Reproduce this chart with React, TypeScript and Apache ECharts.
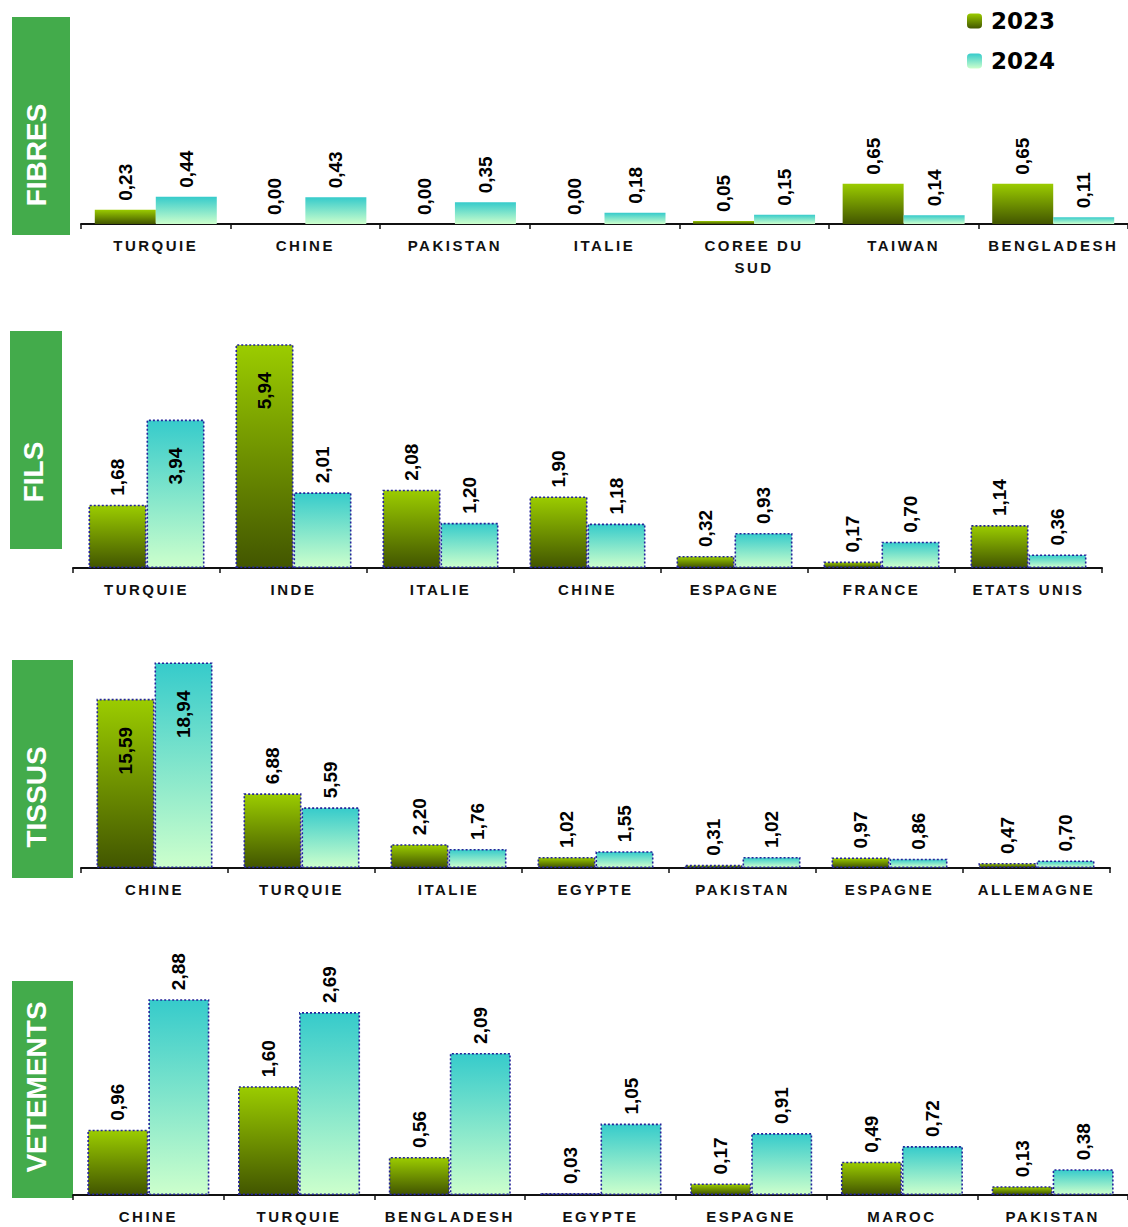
import React, { useEffect, useRef } from "react";
import * as echarts from "echarts";

// ---------- DATA ----------
const seriesNames = ["2023", "2024"];

const fibresCategories = ["TURQUIE", "CHINE", "PAKISTAN", "ITALIE", "COREE DU SUD", "TAIWAN", "BENGLADESH"];
const fibres2023 = [0.23, 0.0, 0.0, 0.0, 0.05, 0.65, 0.65];
const fibres2024 = [0.44, 0.43, 0.35, 0.18, 0.15, 0.14, 0.11];

const filsCategories = ["TURQUIE", "INDE", "ITALIE", "CHINE", "ESPAGNE", "FRANCE", "ETATS UNIS"];
const fils2023 = [1.68, 5.94, 2.08, 1.9, 0.32, 0.17, 1.14];
const fils2024 = [3.94, 2.01, 1.2, 1.18, 0.93, 0.7, 0.36];

const tissusCategories = ["CHINE", "TURQUIE", "ITALIE", "EGYPTE", "PAKISTAN", "ESPAGNE", "ALLEMAGNE"];
const tissus2023 = [15.59, 6.88, 2.2, 1.02, 0.31, 0.97, 0.47];
const tissus2024 = [18.94, 5.59, 1.76, 1.55, 1.02, 0.86, 0.7];

const vetementsCategories = ["CHINE", "TURQUIE", "BENGLADESH", "EGYPTE", "ESPAGNE", "MAROC", "PAKISTAN"];
const vetements2023 = [0.96, 1.6, 0.56, 0.03, 0.17, 0.49, 0.13];
const vetements2024 = [2.88, 2.69, 2.09, 1.05, 0.91, 0.72, 0.38];

const panelTitles = ["FIBRES", "FILS", "TISSUS", "VETEMENTS"];

// ---------- LAYOUT ----------
const panelData = [
  { cats: fibresCategories, a: fibres2023, b: fibres2024 },
  { cats: filsCategories, a: fils2023, b: fils2024 },
  { cats: tissusCategories, a: tissus2023, b: tissus2024 },
  { cats: vetementsCategories, a: vetements2023, b: vetements2024 },
];

const layouts = [
  { left: 81, width: 1057, axisY: 224, height: 186, max: 3, barWidth: 61, bordered: false, insideMin: Infinity,
    box: [12, 17, 58, 218], titleX: 36, titleY: 155 },
  { left: 73, width: 1029, axisY: 568, height: 226, max: 6, barWidth: 58, bordered: true, insideMin: 3,
    box: [10, 331, 52, 218], titleX: 33, titleY: 472 },
  { left: 81, width: 1029, axisY: 868, height: 217, max: 20, barWidth: 58, bordered: true, insideMin: 10,
    box: [12, 660, 61, 218], titleX: 36, titleY: 797 },
  { left: 73, width: 1057, axisY: 1198, height: 207, max: 3, barWidth: 61, bordered: true, insideMin: Infinity,
    box: [12, 981, 61, 217], titleX: 36, titleY: 1087 },
];

const labelFont = "'Liberation Sans', Arial, sans-serif";
const catFont = "'Liberation Sans', Arial, sans-serif";

function fmtValue(v: number) {
  return Number(v).toFixed(2).replace(".", ",");
}
function fmtCat(v: string) {
  if (v.length > 11 && v.indexOf(" ") > 0) {
    const i = v.lastIndexOf(" ");
    return v.slice(0, i) + "\n" + v.slice(i + 1);
  }
  return v;
}

const green = () =>
  new echarts.graphic.LinearGradient(0, 0, 0, 1, [
    { offset: 0, color: "#9BCC00" },
    { offset: 1, color: "#425600" },
  ]);
const cyan = () =>
  new echarts.graphic.LinearGradient(0, 0, 0, 1, [
    { offset: 0, color: "#36CBCB" },
    { offset: 1, color: "#CCFFCC" },
  ]);

export default function App() {
  const ref = useRef<HTMLDivElement>(null);

  useEffect(() => {
    if (!ref.current) return;
    const el = ref.current;
    const chart = echarts.init(el, undefined, { renderer: "svg" });

    const grids: any[] = [];
    const xAxes: any[] = [];
    const yAxes: any[] = [];
    const series: any[] = [];
    const graphics: any[] = [];

    const topLabel = {
      show: true,
      position: "top",
      rotate: 90,
      align: "left",
      verticalAlign: "middle",
      distance: 9,
      fontSize: 19,
      fontWeight: "bold",
      fontFamily: labelFont,
      color: "#000",
      formatter: (p: any) => fmtValue(p.value),
    };
    const insideLabel = {
      show: true,
      position: "insideTop",
      rotate: 90,
      align: "right",
      verticalAlign: "middle",
      distance: 28,
      fontSize: 19,
      fontWeight: "bold",
      fontFamily: labelFont,
      color: "#000",
      formatter: (p: any) => fmtValue(p.value),
    };

    layouts.forEach((L, i) => {
      const d = panelData[i];
      grids.push({ left: L.left, width: L.width, top: L.axisY - L.height, height: L.height, containLabel: false });
      xAxes.push({
        type: "category",
        gridIndex: i,
        data: d.cats,
        axisLine: { show: true, lineStyle: { color: "#111", width: 2 } },
        axisTick: { show: true, length: 5, lineStyle: { color: "#111", width: 1.5 } },
        axisLabel: {
          interval: 0,
          margin: 10,
          lineHeight: 22,
          fontSize: 15,
          fontWeight: "bold",
          fontFamily: catFont,
          color: "#111",
          formatter: fmtCat,
        },
      });
      yAxes.push({ type: "value", gridIndex: i, min: 0, max: L.max, show: false, splitLine: { show: false } });

      [d.a, d.b].forEach((vals, k) => {
        const border = L.bordered
          ? { borderColor: "#23239A", borderWidth: 1.6, borderType: [2, 2] }
          : { borderWidth: 0 };
        series.push({
          type: "bar",
          name: seriesNames[k],
          xAxisIndex: i,
          yAxisIndex: i,
          barWidth: L.barWidth,
          barGap: "0%",
          data: vals.map((v) => (v >= L.insideMin ? { value: v, label: insideLabel } : v)),
          itemStyle: { color: k === 0 ? green() : cyan(), ...border },
          label: topLabel,
        });
      });

      graphics.push({
        type: "rect",
        shape: { x: L.box[0], y: L.box[1], width: L.box[2], height: L.box[3] },
        style: { fill: "#43AB4B" },
        silent: true,
      });
      graphics.push({
        type: "text",
        x: L.titleX,
        y: L.titleY,
        rotation: Math.PI / 2,
        style: {
          text: panelTitles[i],
          fill: "#fff",
          fontSize: 28,
          fontWeight: "bold",
          fontFamily: catFont,
          align: "center",
          verticalAlign: "middle",
        },
        silent: true,
      });
    });

    chart.setOption({
      animation: false,
      grid: grids,
      xAxis: xAxes,
      yAxis: yAxes,
      series,
      graphic: graphics,
      legend: {
        data: seriesNames,
        orient: "vertical",
        left: 967,
        top: 8,
        padding: 0,
        itemWidth: 15,
        itemHeight: 15,
        itemGap: 14,
        selectedMode: false,
        itemStyle: { borderWidth: 0 },
        textStyle: {
          fontSize: 23,
          fontWeight: "bold",
          fontFamily: "'DejaVu Sans', Verdana, sans-serif",
          color: "#000",
          lineHeight: 26,
          padding: [0, 0, 0, 4],
        },
      },
    });

    const catSet = new Set<string>();
    panelData.forEach((d) => d.cats.forEach((c) => fmtCat(c).split("\n").forEach((s) => catSet.add(s))));
    const applySpacing = () => {
      el.querySelectorAll("text").forEach((t) => {
        const s = (t.textContent || "").trim();
        if (catSet.has(s)) t.setAttribute("letter-spacing", "2.5");
      });
    };
    applySpacing();
    chart.on("finished", applySpacing);
    const timer = setTimeout(applySpacing, 50);

    return () => {
      clearTimeout(timer);
      chart.dispose();
    };
  }, []);

  return <div ref={ref} style={{ position: "absolute", left: 0, top: 0, width: 1128, height: 1227 }} />;
}
